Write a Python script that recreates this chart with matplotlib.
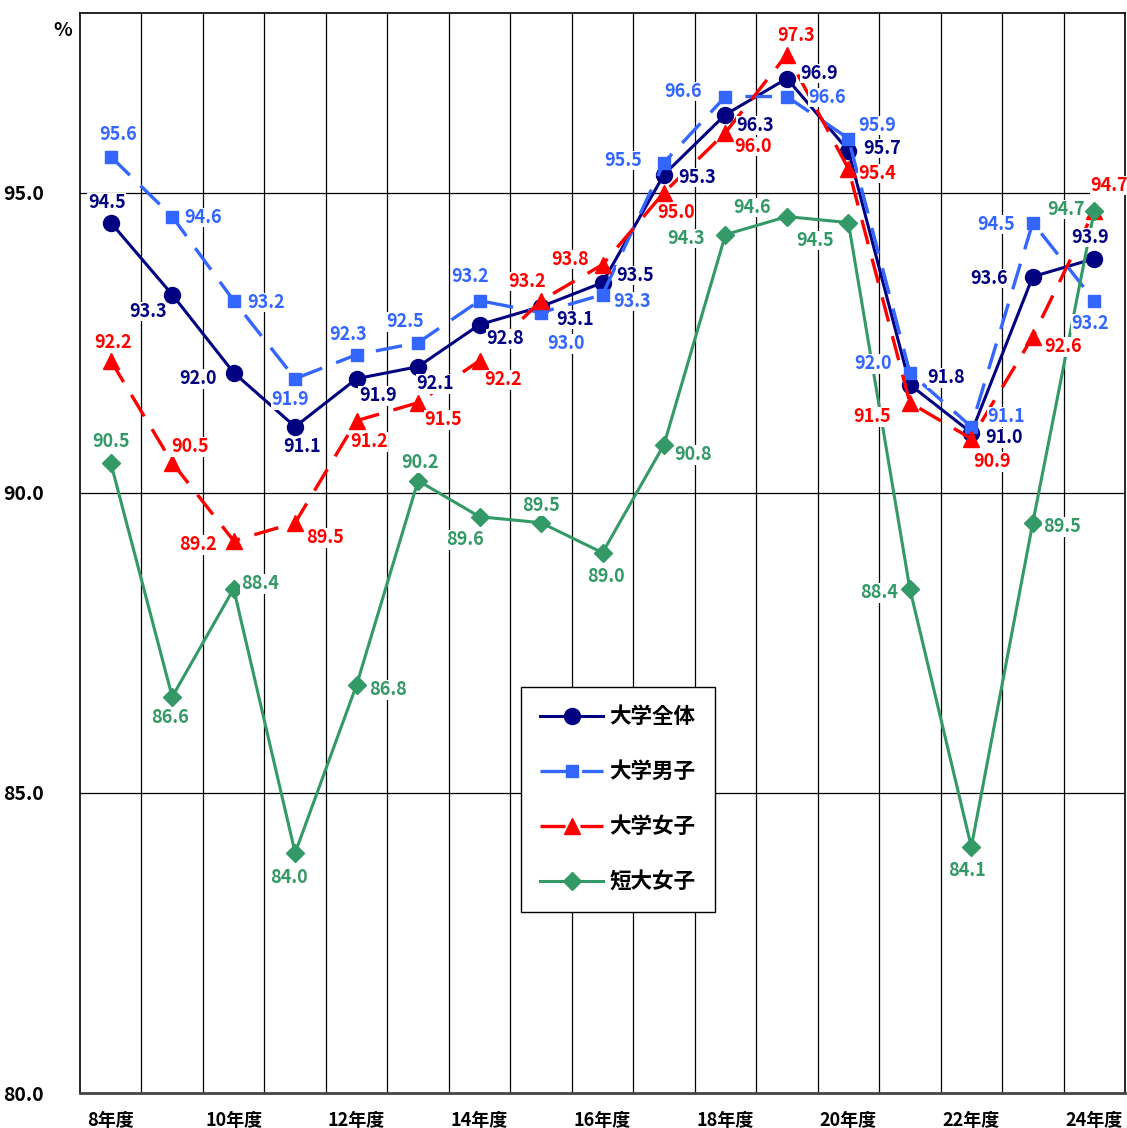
import matplotlib
matplotlib.use("Agg")
import matplotlib.pyplot as plt

plt.rcParams['font.family'] = ['Noto Sans CJK JP', 'DejaVu Sans']
plt.rcParams['font.weight'] = 'bold'

# data
years = ["8年度", "9年度", "10年度", "11年度", "12年度", "13年度", "14年度", "15年度", "16年度",
         "17年度", "18年度", "19年度", "20年度", "21年度", "22年度", "23年度", "24年度"]
univ_all = [94.5, 93.3, 92.0, 91.1, 91.9, 92.1, 92.8, 93.1, 93.5,
            95.3, 96.3, 96.9, 95.7, 91.8, 91.0, 93.6, 93.9]
univ_male = [95.6, 94.6, 93.2, 91.9, 92.3, 92.5, 93.2, 93.0, 93.3,
             95.5, 96.6, 96.6, 95.9, 92.0, 91.1, 94.5, 93.2]
univ_female = [92.2, 90.5, 89.2, 89.5, 91.2, 91.5, 92.2, 93.2, 93.8,
               95.0, 96.0, 97.3, 95.4, 91.5, 90.9, 92.6, 94.7]
junior_female = [90.5, 86.6, 88.4, 84.0, 86.8, 90.2, 89.6, 89.5, 89.0,
                 90.8, 94.3, 94.6, 94.5, 88.4, 84.1, 89.5, 94.7]
series_names = ["大学全体", "大学男子", "大学女子", "短大女子"]
y_ticks = [80, 85, 90, 95]

# label offsets in pixels (dx right, dy down)
off_all = [(-4, -20), (-24, 17), (-36, 6), (7, 20), (21, 17), (17, 17), (26, 14), (34, 13), (33, -7),
           (33, 3), (30, 11), (32, -5), (34, -2), (36, -7), (33, 5), (-44, 2), (-4, -21)]
off_male = [(7, -22), (31, 1), (32, 2), (-5, 21), (-9, -20), (-13, -21), (-9, -24), (25, 31), (30, 7),
            (-41, -2), (-42, -5), (40, 1), (29, -13), (-37, -9), (35, -10), (-37, 2), (-4, 23)]
off_female = [(2, -18), (18, -16), (-36, 4), (30, 15), (12, 21), (25, 17), (24, 19), (-14, -19), (-32, -5),
              (12, 20), (28, 14), (9, -19), (29, 5), (-38, 14), (21, 23), (30, 10), (15, -25)]
off_junior = [(0, -21), (-2, 21), (26, -5), (-6, 25), (31, 5), (2, -18), (-15, 23), (0, -17), (3, 24),
              (29, 10), (-39, 4), (-35, -9), (-33, 18), (-31, 4), (-4, 24), (29, 4), (-28, -1)]

W, H = 1127, 1128
fig = plt.figure(figsize=(W / 100, H / 100), dpi=100)
ax = fig.add_axes([80 / W, 1 - 1093 / H, 1045 / W, 1080.5 / H])

x = list(range(len(years)))
styles = [
    (univ_all, off_all, dict(color='#000080', lw=2.2, ls='-', marker='o', ms=11.5)),
    (univ_male, off_male, dict(color='#3366FF', lw=2.4, ls=(0, (8, 4.5)), marker='s', ms=9)),
    (univ_female, off_female, dict(color='#FF0000', lw=2.4, ls=(0, (7.5, 4.5)), marker='^', ms=11)),
    (junior_female, off_junior, dict(color='#339966', lw=2.2, ls='-', marker='D', ms=9)),
]

for k, (vals, offs, st) in enumerate(styles):
    ax.plot(x, vals, label=series_names[k], zorder=3 + k, **st)
for k, (vals, offs, st) in enumerate(styles):
    for i, v in enumerate(vals):
        dx, dy = offs[i]
        ax.annotate(f"{v:.1f}", (i, v), xytext=(dx * 0.72, -dy * 0.72),
                    textcoords='offset points', ha='center', va='center',
                    fontsize=13, fontweight='bold', color=st['color'], zorder=10,
                    bbox=dict(fc='white', ec='none', pad=0.2))

ax.set_xlim(-0.5, len(years) - 0.5)
ax.set_ylim(80, 98)
ax.set_yticks(y_ticks)
ax.set_yticklabels([f"{t:.1f}" for t in y_ticks], fontsize=14, fontweight='bold')
ax.set_xticks(x[::2])
ax.set_xticklabels(years[::2], fontsize=13, fontweight='bold')
ax.tick_params(axis='y', length=0, pad=26)
ax.tick_params(axis='x', length=0, pad=13)

for t in y_ticks[1:]:
    ax.axhline(t, color='black', lw=0.9, zorder=1)
for i in range(len(years) - 1):
    ax.axvline(i + 0.5, color='black', lw=0.9, zorder=1)
for s in ax.spines.values():
    s.set_linewidth(1.2)
ax.spines['bottom'].set_linewidth(2)
ax.spines['bottom'].set_color('#444444')

ax.text(63 / W, 1 - 30 / H, "%", transform=fig.transFigure, ha='center', va='center',
        fontsize=14, fontweight='bold')

leg = ax.legend(loc='upper left', bbox_to_anchor=((521 - 80) / 1045, (1093 - 687) / 1080.5),
                borderaxespad=0, labelspacing=1.58, handlelength=2.9,
                handletextpad=0.3, borderpad=0.9, fancybox=False, framealpha=1,
                edgecolor='black', prop={'weight': 'bold', 'size': 15.5})
leg.get_frame().set_linewidth(1)
leg.set_zorder(20)

fig.savefig("out.png", dpi=100)
